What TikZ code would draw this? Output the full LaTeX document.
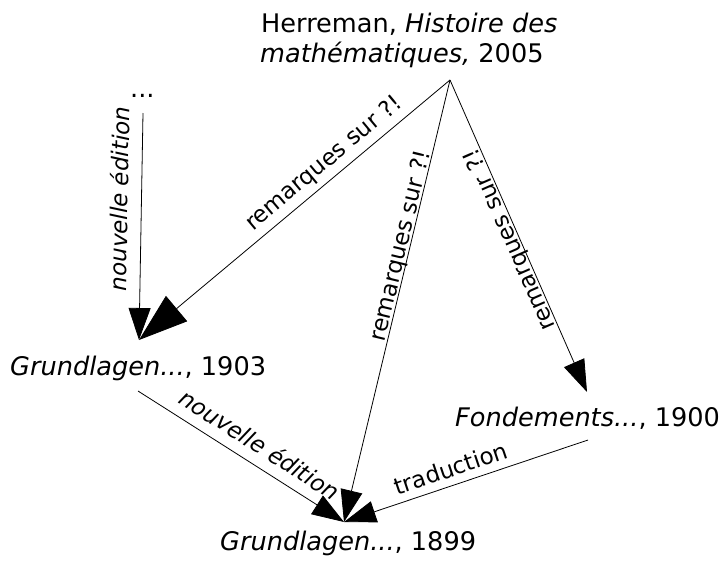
\documentclass[tikz,border=0pt]{standalone}
\usepackage{fontspec}
\setmainfont{DejaVu Sans}
\usetikzlibrary{arrows.meta}
\begin{document}
\begin{tikzpicture}[x=1pt,y=-1pt,
  txt/.style={inner sep=0pt, anchor=base west, font=\fontsize{25.6}{30}\selectfont},
  lbl/.style={inner xsep=0pt, text depth=0pt, font=\fontsize{23}{27}\selectfont},
  conn/.style={line width=0.8pt, -{Triangle[length=32pt,width=22pt]}},
  bigconn/.style={line width=0.8pt, -{Triangle[length=49pt,width=33pt]}}]
\useasboundingbox (0,0) rectangle (720,563);
% text nodes
\node[txt] (herrA) at (261,32) {Herreman, \textit{Histoire des}};
\node[txt] (herrB) at (260,62) {\textit{mathématiques,} 2005};
\node[txt] (dots) at (130,97) {...};
\node[txt] (g3) at (10,375) {\textit{Grundlagen...}, 1903};
\node[txt] (fond) at (455,426) {\textit{Fondements...}, 1900};
\node[txt] (g99) at (220,550) {\textit{Grundlagen...}, 1899};
% connector ends
\coordinate (apex) at (450,80);
\coordinate (dotsEnd) at (143,113);
\coordinate (g3Top) at (139,340);
\coordinate (g3Bot) at (138,391);
\coordinate (g99Top) at (344,522);
\coordinate (fTop) at (587,392);
\coordinate (fBot) at (588,440);
% connectors
\draw[conn] (dotsEnd) -- node[lbl, pos=0.38, sloped, above, inner ysep=13pt] {\textit{nouvelle édition}} (g3Top);
\draw[bigconn] (apex) -- node[lbl, pos=0.37, sloped, above, inner ysep=10pt] {remarques sur ?!} (g3Top);
\draw[conn] (apex) -- node[lbl, pos=0.38, sloped, above, inner ysep=2pt] {remarques sur ?!} (g99Top);
\draw[conn] (apex) -- node[lbl, pos=0.5, anchor=south, rotate=113.7, inner ysep=2pt] {remarques sur ?!} (fTop);
\draw[conn] (g3Bot) -- node[lbl, pos=0.54, sloped, above, inner ysep=11pt] {\textit{nouvelle édition}} (g99Top);
\draw[conn] (fBot) -- node[lbl, pos=0.54, sloped, above, inner ysep=8pt] {traduction} (g99Top);
\end{tikzpicture}
\end{document}
